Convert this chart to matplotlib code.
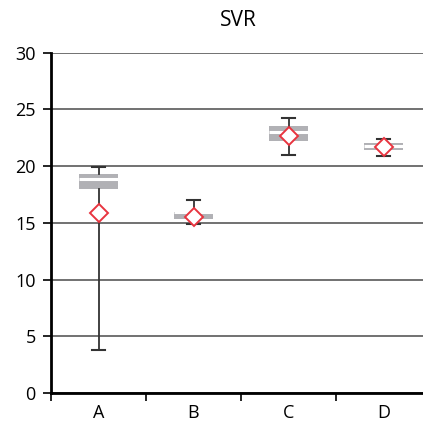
import numpy as np
import matplotlib.pyplot as plt

plt.rcParams['font.family'] = ['Open Sans', 'DejaVu Sans']

categories = ['A', 'B', 'C', 'D']
q1 = [18.0, 15.35, 22.2, 21.4]
median = [18.85, 15.95, 23.05, 21.75]
q3 = [19.35, 15.95, 23.5, 22.05]
whisker_low = [3.8, 14.9, 21.0, 20.85]
whisker_high = [19.9, 17.0, 24.2, 22.4]
mean = [15.9, 15.55, 22.65, 21.7]

stats = []
for i, name in enumerate(categories):
    stats.append({'label': name, 'q1': q1[i], 'med': median[i], 'q3': q3[i],
                  'whislo': whisker_low[i], 'whishi': whisker_high[i],
                  'mean': mean[i], 'fliers': []})

fig = plt.figure(figsize=(4.23, 4.25), dpi=100)
ax = fig.add_axes([51 / 423, 32 / 425, 380 / 423, 340.3 / 425])

pos = np.arange(1, len(categories) + 1)
ax.bxp(stats, positions=pos, widths=0.41, showmeans=True, patch_artist=True,
       boxprops=dict(facecolor='#b1b1b5', edgecolor='none'),
       medianprops=dict(color='white', linewidth=2.2),
       whiskerprops=dict(color='#333333', linewidth=1.3),
       capprops=dict(color='#333333', linewidth=1.5),
       capwidths=0.14,
       meanprops=dict(marker='D', markerfacecolor='white', markeredgecolor='#e8343f',
                      markeredgewidth=1.4, markersize=9),
       zorder=3)

ax.set_xlim(0.5, 4.5)
ax.set_ylim(0, 30)
ax.set_yticks(range(0, 31, 5))
ax.set_xticks(np.arange(0.5, 4.6, 1))
ax.set_xticklabels([])
ax.set_xticks(pos, minor=True)
ax.set_xticklabels(categories, minor=True)
ax.tick_params(axis='x', which='minor', length=0, pad=8, labelsize=13)
ax.tick_params(axis='x', which='major', length=6, width=1.2, direction='out')
ax.tick_params(axis='y', length=6, width=1.2, pad=5, labelsize=13)
ax.yaxis.grid(True, color='#4a4a4a', linewidth=1.1)
ax.set_axisbelow(True)

for s in ['top', 'right']:
    ax.spines[s].set_visible(False)
ax.spines['left'].set_linewidth(2)
ax.spines['bottom'].set_linewidth(2)

fig.text(238 / 423, 1 - 20 / 425, 'SVR', ha='center', va='center', fontsize=15)

fig.savefig('out.png', dpi=100)
